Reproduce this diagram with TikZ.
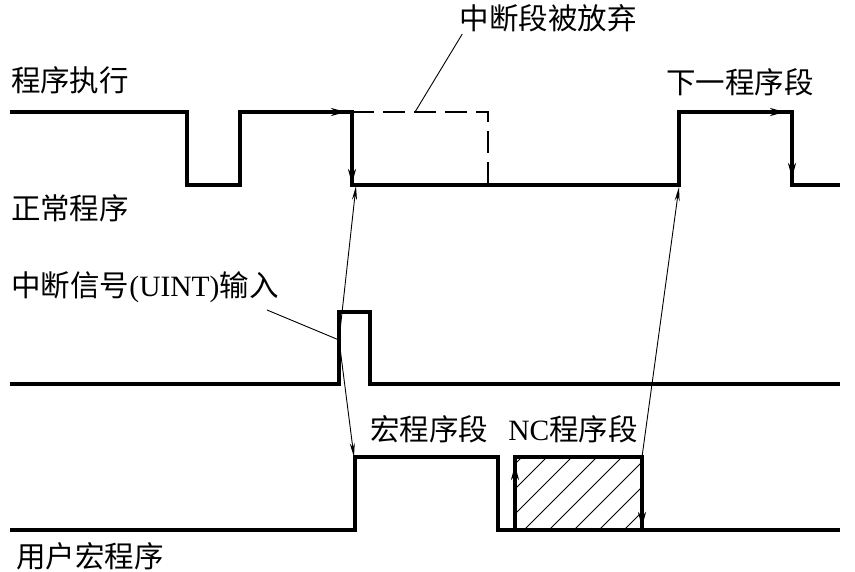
\documentclass[tikz,border=0pt]{standalone}
\usepackage{fontspec}
\setmainfont{Liberation Serif}
\newfontfamily\cjk{Noto Sans CJK SC}
\usetikzlibrary{arrows.meta}

\begin{document}
\begin{tikzpicture}[x=1pt, y=-1pt,
  wave/.style={line width=3.3pt, line join=miter},
  guide/.style={line width=0.9pt},
  wavetip/.style={-{Stealth[length=15pt, width=8pt]}},
  guidetip/.style={-{Stealth[length=14pt, width=5pt]}},
  lbl/.style={font=\fontsize{29.5}{33}\selectfont\cjk, inner sep=0pt}]

\useasboundingbox (0,0) rectangle (855,571);

% Program execution: normal program, cut off, then the next block
\draw[wave] (10,112) -- (187,112) -- (187,185) -- (240,185) -- (240,112)
  -- (352,112) -- (352,185) -- (679,185) -- (679,112) -- (792,112)
  -- (792,185) -- (840,185);
\draw[wave, wavetip] (320,112) -- (346,112);
\draw[wave, wavetip] (352,150) -- (352,184);
\draw[wave, wavetip] (755,112) -- (785,112);
\draw[wave, wavetip] (792,145) -- (792,178);

% The part that is dropped
\draw[line width=1.5pt, dash pattern=on 22pt off 9pt] (352,112) -- (488,112) -- (488,185);

% Interrupt signal
\draw[wave] (10,384) -- (339,384) -- (339,312) -- (370,312) -- (370,384) -- (840,384);

% User macro program
\draw[wave] (10,530) -- (355,530) -- (355,457) -- (498,457) -- (498,530) -- (840,530);

% NC block, hatched
\begin{scope}
  \clip (515,457) rectangle (642,530);
  \foreach \x in {449,474,...,649}
    \draw[guide] (\x,530) -- ++(73,-73);
\end{scope}
\draw[wave] (515,530) -- (515,457) -- (642,457) -- (642,530);
\draw[wave, wavetip] (515,500) -- (515,465);
\draw[wave, wavetip] (642,490) -- (642,527);

% Labels
\node[lbl] (exec) at (70,80) {程序执行};
\node[lbl] (normal) at (70,208) {正常程序};
\node[lbl] (drop) at (548,18) {中断段被放弃};
\node[lbl] (next) at (740,82) {下一程序段};
\node[lbl] (uint) at (145,287) {中断信号{\rmfamily (UINT)}输入};
\node[lbl] (macro) at (429,429) {宏程序段};
\node[lbl] (ncseg) at (573,429) {{\rmfamily NC}程序段};
\node[lbl] (user) at (90,556) {用户宏程序};

% Points the guide lines run between
\coordinate (dropfoot) at (415,112);
\coordinate (uintfoot) at (267,310);
\coordinate (irq) at (339,340);
\coordinate (cut) at (356,186);
\coordinate (macrostart) at (354,457);
\coordinate (ncend) at (642,457);
\coordinate (resume) at (679,187);

% Leaders and timing arrows
\draw[guide] ([xshift=3pt, yshift=-2pt]drop.south west) -- (dropfoot);
\draw[guide] (uintfoot) -- (irq);
\draw[guide, guidetip] (irq) -- (cut);
\draw[guide, guidetip] (irq) -- (macrostart);
\draw[guide, guidetip] (ncend) -- (resume);

\end{tikzpicture}
\end{document}
